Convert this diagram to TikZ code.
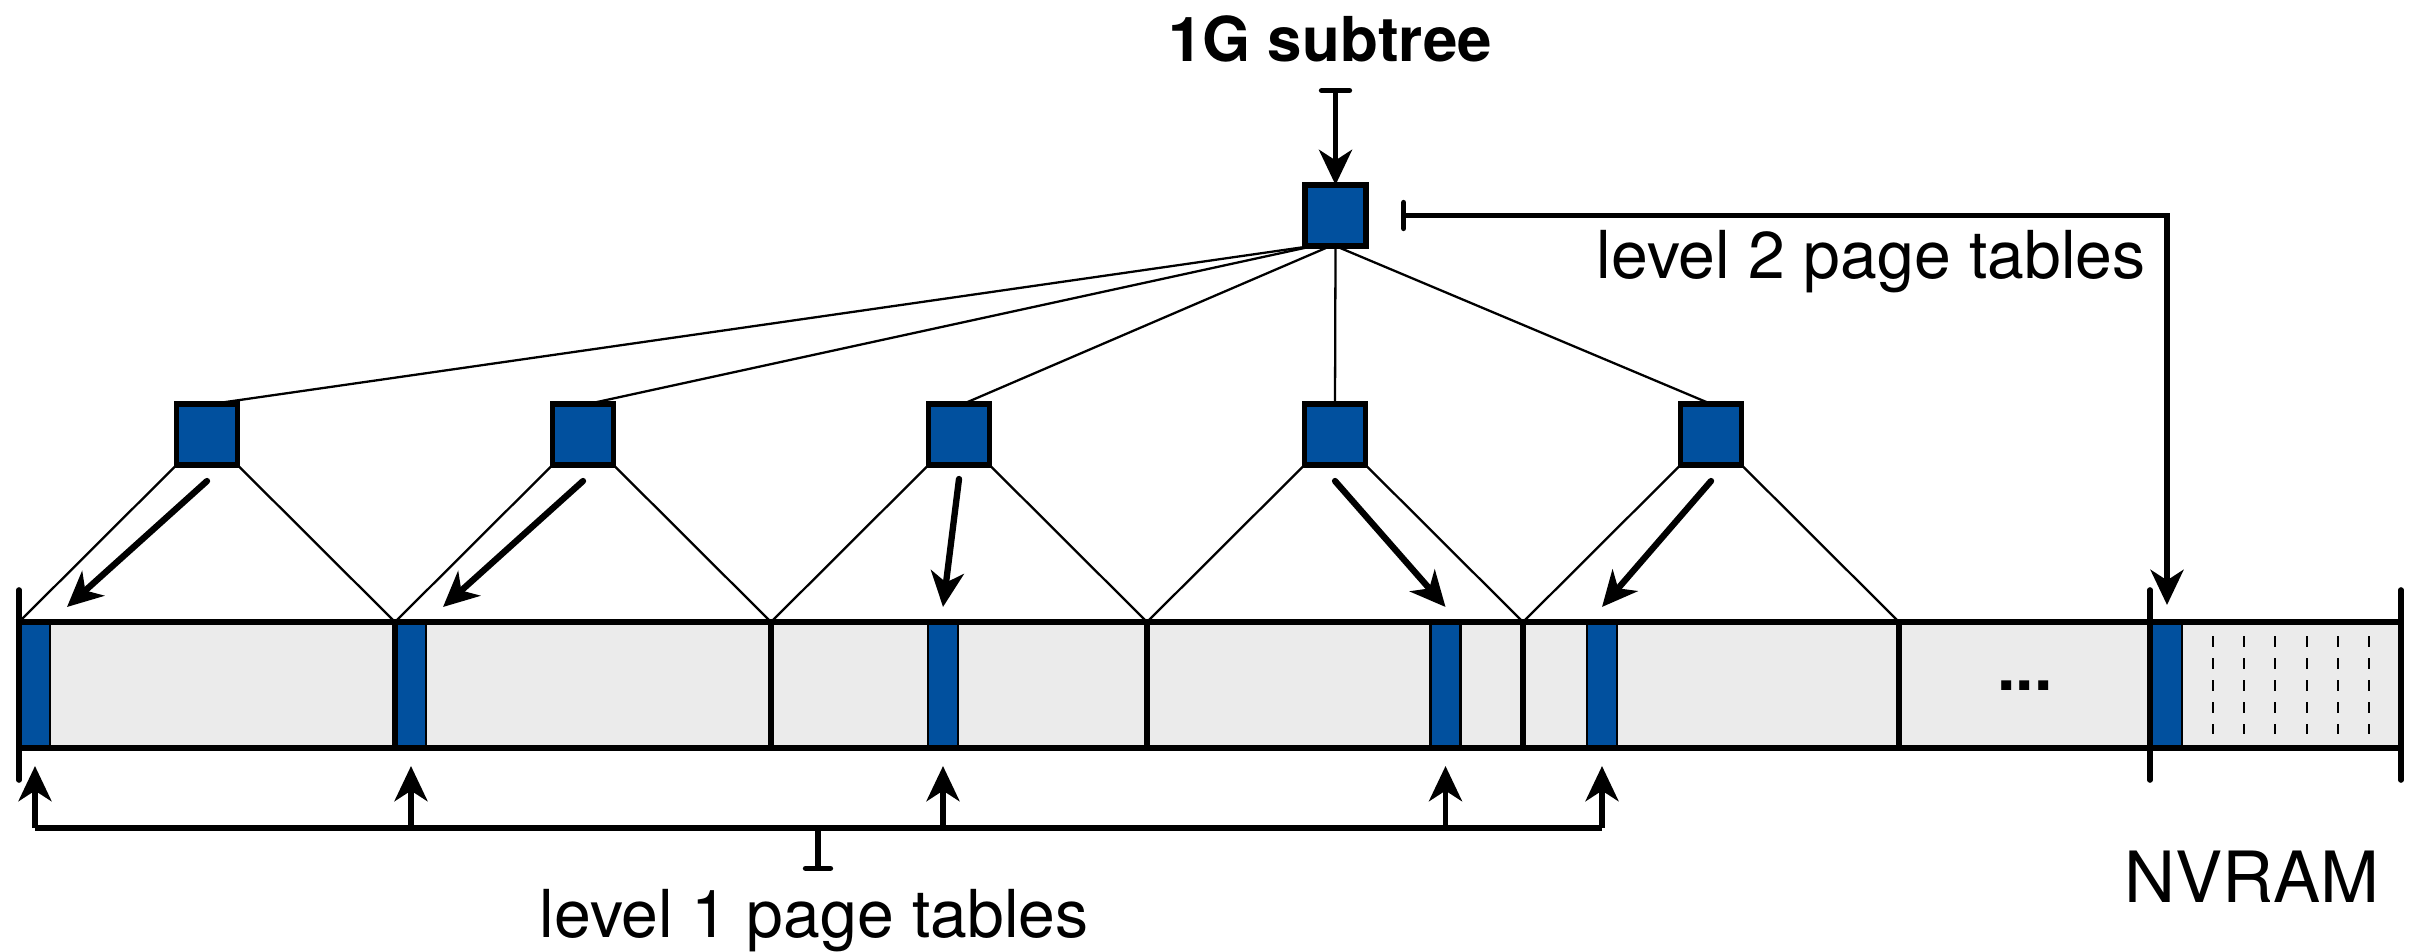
\documentclass[tikz,border=0pt]{standalone}
\usepackage{fontspec}
\setmainfont{TeX Gyre Heros}
\usetikzlibrary{arrows.meta}
\definecolor{ptblue}{RGB}{1,80,158}
\definecolor{memgray}{RGB}{235,235,235}

\begin{document}
\begin{tikzpicture}[x=0.01cm,y=-0.01cm,
  ptnode/.style={draw=black, line width=1.5pt, fill=ptblue, minimum size=0.61cm, inner sep=0, outer sep=0},
  ptslot/.style={draw=black, line width=0.7pt, fill=ptblue, minimum width=0.30cm, minimum height=1.26cm, inner sep=0, outer sep=0},
  tree/.style={line width=0.65pt},
  memline/.style={line width=1.6pt},
  endtick/.style={line width=1.6pt, line cap=round},
  headtip/.style={-{Stealth[length=10pt,width=9.4pt,inset=3pt]}},
  ptr/.style={line width=1.8pt, line cap=round, headtip},
  teeptr/.style={line width=1.5pt, {Bar[width=#1, round]}-{Stealth[length=10pt,width=9.4pt,inset=3pt]}},
  teeonly/.style={line width=1.5pt, {Bar[width=#1, round]}-},
  lbl/.style={font=\fontsize{18.8}{22}\selectfont, inner sep=0},
]
\useasboundingbox (0,0) rectangle (2413,952);

% ---- memory strip ----
\fill[memgray] (19,622) rectangle (2401,748);
\node[ptslot] (p1) at (35,685) {};
\node[ptslot] (p2) at (411,685) {};
\node[ptslot] (p3) at (943,685) {};
\node[ptslot] (p4) at (1445.5,685) {};
\node[ptslot] (p5) at (1602,685) {};
\node[ptslot] (pn) at (2167,685) {};

\draw[memline] (19,622) -- (2401,622);
\draw[memline] (19,748) -- (2401,748);
\foreach \x in {395,771,1147,1523,1899}
  \draw[memline] (\x,622) -- (\x,748);
\foreach \x in {19,2150,2401}
  \draw[endtick] (\x,590) -- (\x,780);
\foreach \x in {2213,2244,2275,2307,2338,2369}
  \draw[line width=0.7pt, dash pattern=on 0.105cm off 0.115cm] (\x,636) -- (\x,734);
\node[lbl, anchor=base] (dots) at (2025,690) {\bfseries...};

% segment boundaries on the top edge of the strip
\coordinate (s0) at (19,622);
\coordinate (s1) at (395,622);
\coordinate (s2) at (771,622);
\coordinate (s3) at (1147,622);
\coordinate (s4) at (1523,622);
\coordinate (s5) at (1899,622);

% ---- page table tree ----
\node[ptnode] (root) at (1335.5,215.5) {};
\node[ptnode] (b1) at (207,434.5) {};
\node[ptnode] (b2) at (583,434.5) {};
\node[ptnode] (b3) at (959,434.5) {};
\node[ptnode] (b4) at (1335,434.5) {};
\node[ptnode] (b5) at (1711,434.5) {};

\draw[tree] ([xshift=-0.24cm]root.south) -- ([xshift=0.05cm]b1.north);
\draw[tree] ([xshift=-0.22cm]root.south) -- ([xshift=0.05cm]b2.north);
\draw[tree] ([xshift=-0.05cm]root.south) -- ([xshift=0.04cm]b3.north);
\draw[tree] (root.south) -- (b4.north);
\draw[tree] (root.south) -- (b5.north);

\draw[tree] (s0) -- (b1.south west);  \draw[tree] (b1.south east) -- (s1);
\draw[tree] (s1) -- (b2.south west);  \draw[tree] (b2.south east) -- (s2);
\draw[tree] (s2) -- (b3.south west);  \draw[tree] (b3.south east) -- (s3);
\draw[tree] (s3) -- (b4.south west);  \draw[tree] (b4.south east) -- (s4);
\draw[tree] (s4) -- (b5.south west);  \draw[tree] (b5.south east) -- (s5);

% pointers from level-2 entries to level-1 tables
\coordinate (t1) at (67,607);
\coordinate (t2) at (443,607);
\coordinate (t3) at ([yshift=0.15cm]p3.north);
\coordinate (t4) at ([yshift=0.15cm]p4.north);
\coordinate (t5) at ([yshift=0.15cm]p5.north);
\draw[ptr] ([yshift=-0.16cm]b1.south) -- (t1);
\draw[ptr] ([yshift=-0.16cm]b2.south) -- (t2);
\draw[ptr] ([yshift=-0.14cm]b3.south) -- (t3);
\draw[ptr] ([yshift=-0.16cm]b4.south) -- (t4);
\draw[ptr] ([yshift=-0.16cm]b5.south) -- (t5);

% ---- labels and callouts ----
\node[font=\bfseries\fontsize{17.6}{21}\selectfont, inner sep=0, anchor=base] (title) at (1330,62) {1G subtree};
\coordinate (gtee) at (1335.5,88);
\draw[teeptr=0.28cm] (gtee) -- (root.north);

\coordinate (l2tee) at (1401,215.5);
\draw[teeptr=0.26cm] (l2tee) -| ([yshift=0.17cm]pn.north);
\node[lbl, anchor=base west] (l2lbl) at (1596,279) {level 2 page tables};

\coordinate (bus) at (818,828);
\draw[line width=1.5pt] (p1.south |- bus) -- (p5.south |- bus);
\foreach \p in {p1,p2,p3,p4,p5}
  \draw[line width=1.5pt, headtip] (\p.south |- bus) -- ([yshift=-0.18cm]\p.south);
\coordinate (l1tee) at (818,871);
\draw[teeonly=0.25cm] (l1tee) -- (bus);
\node[lbl, anchor=base west] (l1lbl) at (539,937) {level 1 page tables};

\node[font=\fontsize{20.1}{24}\selectfont, inner sep=0, anchor=base] (nvlbl) at (2252,902) {NVRAM};
\end{tikzpicture}
\end{document}
